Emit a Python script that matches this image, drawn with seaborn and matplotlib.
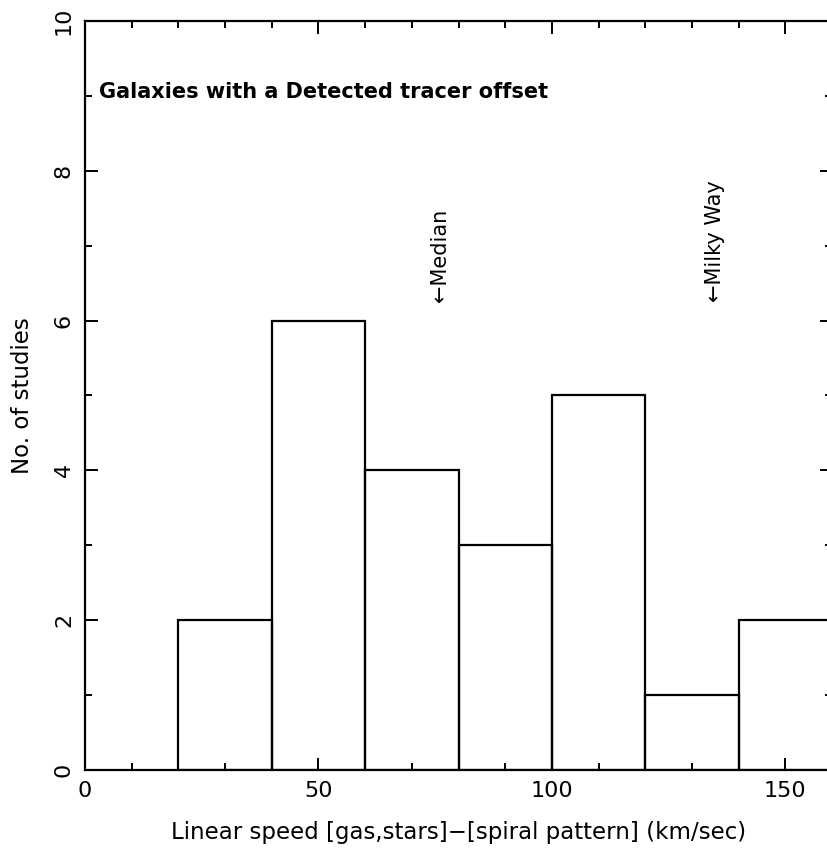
import numpy as np
import matplotlib
matplotlib.use("Agg")
import matplotlib.pyplot as plt
import seaborn as sns
from matplotlib.ticker import MultipleLocator

# data
bin_edges = [20, 40, 60, 80, 100, 120, 140, 160]
counts = [2, 6, 4, 3, 5, 1, 2]
bin_centers = [30, 50, 70, 90, 110, 130, 150]
median_speed = 76
milky_way_speed = 135

sns.set_style("ticks")
plt.rcParams["font.family"] = ["DejaVu Sans"]
plt.rcParams["text.color"] = "black"
plt.rcParams["axes.labelcolor"] = "black"

fig = plt.figure(figsize=(8.28, 8.56), dpi=100)
ax = fig.add_axes([0.1027, 0.1005, 0.9021, 0.875])

sns.histplot(x=bin_centers, weights=counts, bins=bin_edges, fill=False,
             element="bars", color="black", linewidth=1.6, ax=ax)

ax.set_xlim(0, 160)
ax.set_ylim(0, 10)
ax.xaxis.set_major_locator(MultipleLocator(50))
ax.xaxis.set_minor_locator(MultipleLocator(10))
ax.yaxis.set_major_locator(MultipleLocator(2))
ax.yaxis.set_minor_locator(MultipleLocator(1))
ax.tick_params(which="both", direction="in", top=True, right=True,
               width=1.4, labelsize=16, colors="black")
ax.tick_params(which="major", length=9)
ax.tick_params(which="minor", length=5)
ax.tick_params(axis="x", pad=8)
ax.tick_params(axis="y", labelrotation=90, pad=8)
for lbl in ax.get_yticklabels():
    lbl.set_va("center")
for s in ax.spines.values():
    s.set_linewidth(1.6)
    s.set_color("black")

ax.set_xlabel("Linear speed [gas,stars]\u2212[spiral pattern] (km/sec)",
              fontsize=16.5, labelpad=14, color="black")
ax.set_ylabel("No. of studies", fontsize=16.5, labelpad=14, color="black")

ax.text(3, 9.05, "Galaxies with a Detected tracer offset", fontsize=15,
        fontweight="semibold", ha="left", va="center", color="black")
ax.text(median_speed, 6.25, "\u2190Median", rotation=90, fontsize=15,
        ha="center", va="bottom", color="black")
ax.text(milky_way_speed, 6.25, "\u2190Milky Way", rotation=90, fontsize=15,
        ha="center", va="bottom", color="black")

plt.savefig("out.png", dpi=100)
